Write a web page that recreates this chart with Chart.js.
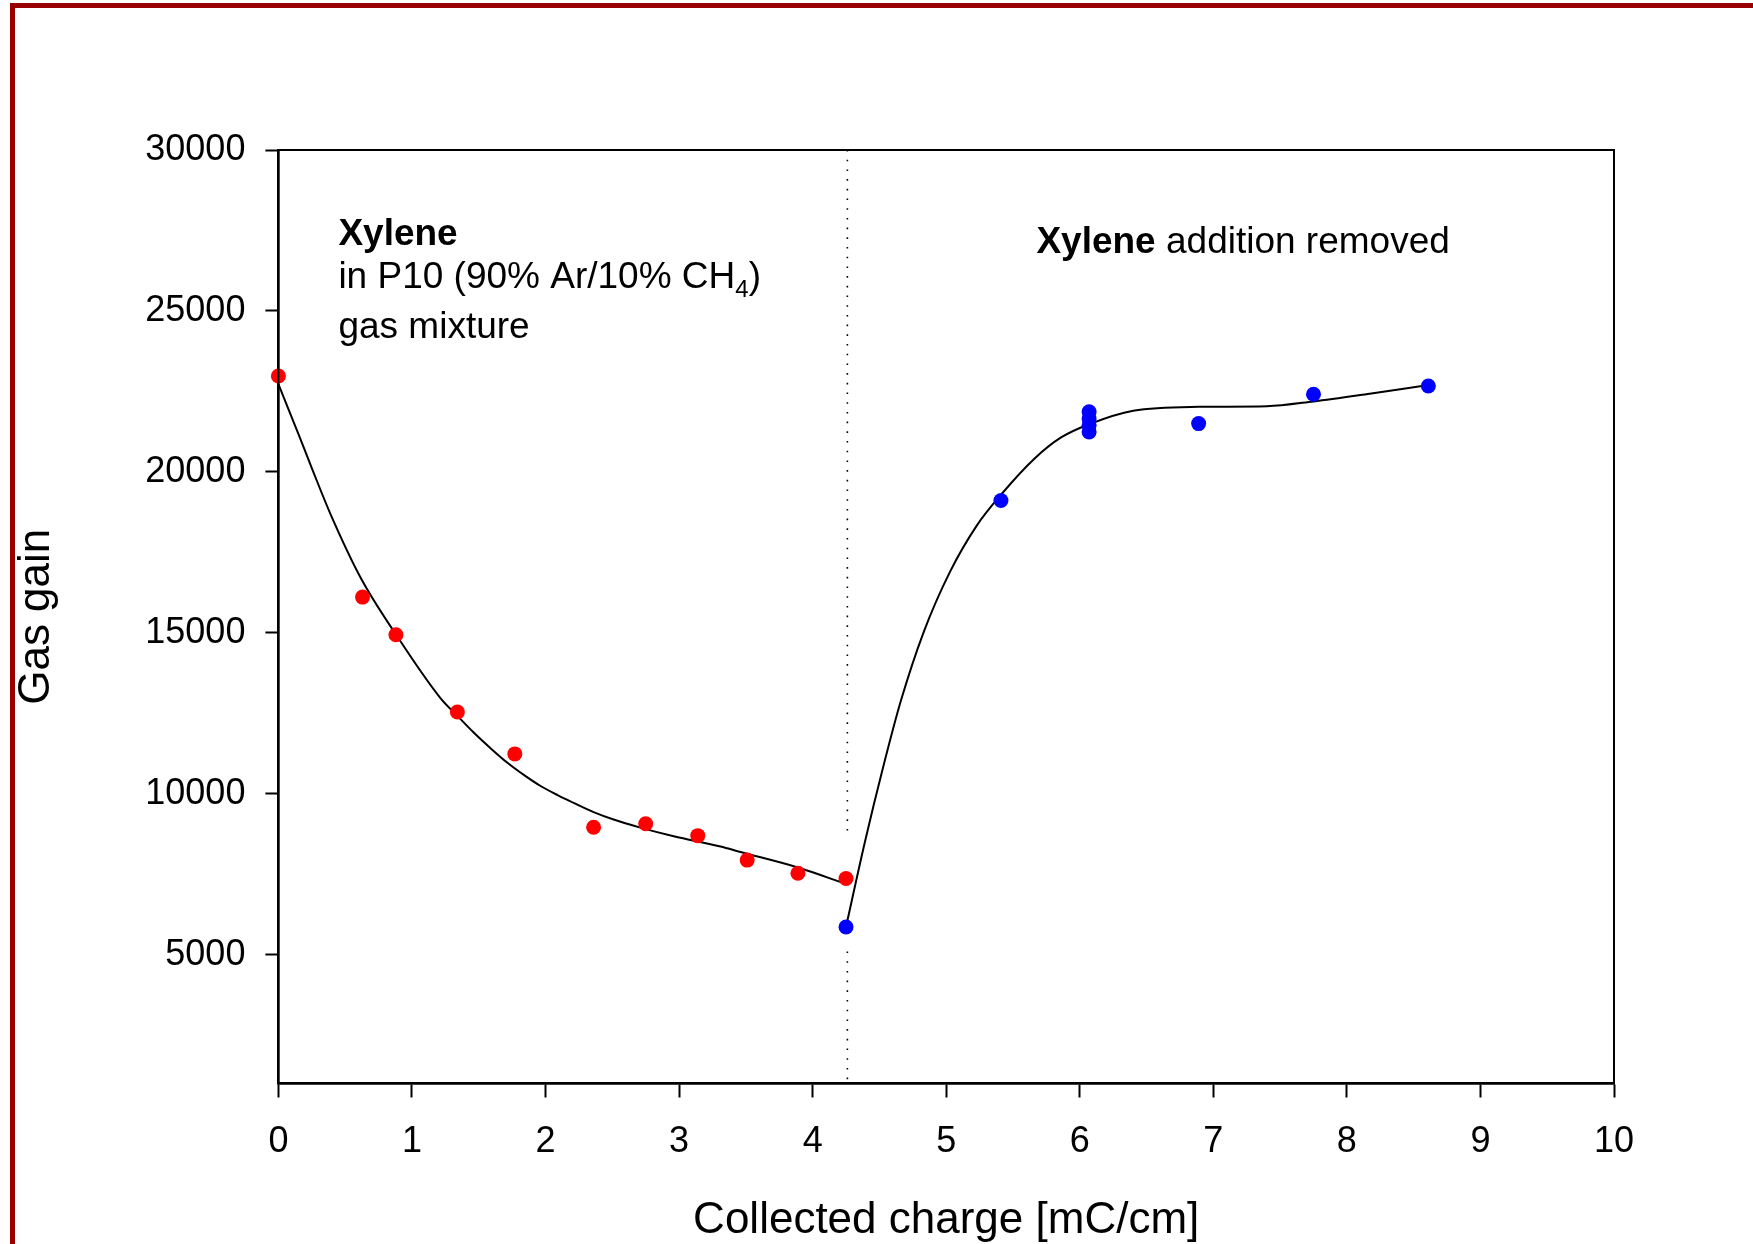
<!DOCTYPE html>
<html>
<head>
<meta charset="utf-8">
<title>Gas gain vs collected charge</title>
<script src="https://cdn.jsdelivr.net/npm/chart.js@4.4.1/dist/chart.umd.min.js"></script>
<style>
  html, body { margin: 0; padding: 0; background: #fff; overflow: hidden; }
  #wrap { position: relative; width: 1753px; height: 1244px; overflow: hidden; }
  #frame { position: absolute; left: 10px; top: 3px; width: 1800px; height: 1300px; border: 5px solid #990000; box-sizing: border-box; }
  #chart { position: absolute; left: 0; top: 0; }
</style>
</head>
<body>
<div id="wrap">
  <div id="frame"></div>
  <canvas id="chart" width="1753" height="1244"></canvas>
</div>
<script>
var FONT = '"Liberation Sans", Arial, Helvetica, sans-serif';

// measured gain with xylene in the P10 mixture
var xyleneCharge = [0, 0.63, 0.88, 1.34, 1.77, 2.36, 2.75, 3.14, 3.51, 3.89, 4.25];
var xyleneGain = [22980, 16110, 14940, 12540, 11240, 8960, 9070, 8700, 7940, 7530, 7370];

// measured gain after the xylene was taken out
var cleanCharge = [4.25, 5.41, 6.07, 6.07, 6.07, 6.07, 6.89, 7.75, 8.61];
var cleanGain = [5860, 19110, 21870, 21650, 21450, 21240, 21500, 22410, 22670];

// smoothed trend lines through both runs
var xyleneFitCharge = [0, 0.16, 0.25, 0.39, 0.62, 0.88, 1.21, 1.34, 1.46, 1.59, 1.71, 1.84, 1.96, 2.09, 2.21, 2.36, 2.51, 2.71, 2.96, 3.31, 3.46, 3.89, 4.25];
var xyleneFitGain = [22730, 21070, 20120, 18690, 16680, 14950, 12990, 12420, 11910, 11410, 10980, 10580, 10250, 9960, 9720, 9430, 9200, 8950, 8680, 8360, 8190, 7710, 7200];
var cleanFitCharge = [4.25, 4.39, 4.53, 4.66, 4.83, 5.03, 5.23, 5.41, 5.66, 5.86, 6.07, 6.40, 6.89, 7.40, 7.75, 8.17, 8.61];
var cleanFitGain = [5870, 8480, 10860, 12880, 15010, 16910, 18340, 19290, 20410, 21070, 21480, 21900, 22020, 22040, 22190, 22430, 22700];

// dotted marker where the xylene addition was removed (broken around the points)
var switchCharge = 4.26;
var switchGain = [30000, 8850, null, 5100, 1000];

var xTicks = [0, 1, 2, 3, 4, 5, 6, 7, 8, 9, 10];
var yTicks = [5000, 10000, 15000, 20000, 25000, 30000];

function pairs(xs, ys) {
    return xs.map(function(x, i) { return {x: x, y: ys[i]}; });
}

var notes = {
    id: 'notes',
    afterDraw: function(chart) {
        var ctx = chart.ctx;
        var a = chart.chartArea;
        ctx.save();
        ctx.strokeStyle = '#000';
        ctx.lineWidth = 2;
        ctx.strokeRect(a.left, a.top, a.right - a.left, a.bottom - a.top);

        ctx.fillStyle = '#000';
        ctx.textAlign = 'left';
        ctx.textBaseline = 'alphabetic';

        var x = a.left + 60;
        ctx.font = 'bold 37px ' + FONT;
        ctx.fillText('Xylene', x, a.top + 95);
        ctx.font = '37px ' + FONT;
        var t = 'in P10 (90% Ar/10% CH';
        ctx.fillText(t, x, a.top + 138);
        var w = ctx.measureText(t).width;
        ctx.font = '24px ' + FONT;
        ctx.fillText('4', x + w, a.top + 147);
        w += ctx.measureText('4').width;
        ctx.font = '37px ' + FONT;
        ctx.fillText(')', x + w, a.top + 138);
        ctx.fillText('gas mixture', x, a.top + 188);

        var x2 = a.left + 758;
        ctx.font = 'bold 37px ' + FONT;
        ctx.fillText('Xylene', x2, a.top + 103);
        var w2 = ctx.measureText('Xylene ').width;
        ctx.font = '37px ' + FONT;
        ctx.fillText('addition removed', x2 + w2, a.top + 103);
        ctx.restore();
    }
};

new Chart(document.getElementById('chart'), {
    type: 'scatter',
    data: {
        datasets: [
            {
                data: pairs(xyleneCharge, xyleneGain),
                backgroundColor: '#ff0000',
                borderWidth: 0,
                pointRadius: 7.5,
                clip: false
            },
            {
                data: pairs(cleanCharge, cleanGain),
                backgroundColor: '#0000ff',
                borderWidth: 0,
                pointRadius: 7.5,
                clip: false
            },
            {
                data: pairs(xyleneFitCharge, xyleneFitGain),
                showLine: true,
                pointRadius: 0,
                borderColor: '#000',
                borderWidth: 2,
                cubicInterpolationMode: 'monotone'
            },
            {
                data: pairs(cleanFitCharge, cleanFitGain),
                showLine: true,
                pointRadius: 0,
                borderColor: '#000',
                borderWidth: 2,
                cubicInterpolationMode: 'monotone'
            },
            {
                data: switchGain.map(function(g) { return {x: switchCharge, y: g}; }),
                showLine: true,
                spanGaps: false,
                pointRadius: 0,
                borderColor: '#000',
                borderWidth: 1.6,
                borderDash: [1.6, 8.1]
            }
        ]
    },
    options: {
        responsive: false,
        animation: false,
        events: [],
        layout: { padding: { left: 0, top: 150, right: 139, bottom: 0 } },
        plugins: {
            legend: { display: false },
            tooltip: { enabled: false }
        },
        scales: {
            x: {
                type: 'linear',
                min: 0,
                max: 10,
                afterBuildTicks: function(s) { s.ticks = xTicks.map(function(v) { return {value: v}; }); },
                afterFit: function(s) { s.height = 160.5; },
                grid: { drawOnChartArea: false, tickLength: 14, tickWidth: 2, tickColor: '#000' },
                border: { color: '#000', width: 2.5 },
                ticks: {
                    color: '#000',
                    padding: 23,
                    maxRotation: 0,
                    font: { family: FONT, size: 36 },
                    callback: function(v) { return String(v); }
                },
                title: {
                    display: true,
                    text: 'Collected charge [mC/cm]',
                    color: '#000',
                    font: { family: FONT, size: 44 },
                    padding: { top: 0, bottom: -3 }
                }
            },
            y: {
                type: 'linear',
                min: 1000,
                max: 30000,
                afterBuildTicks: function(s) { s.ticks = yTicks.map(function(v) { return {value: v}; }); },
                afterFit: function(s) { s.width = 278.4; },
                grid: { drawOnChartArea: false, tickLength: 13, tickWidth: 2, tickColor: '#000' },
                border: { color: '#000', width: 2.5 },
                ticks: {
                    color: '#000',
                    padding: 20,
                    font: { family: FONT, size: 36 },
                    callback: function(v) { return String(v); }
                },
                title: {
                    display: true,
                    text: 'Gas gain',
                    color: '#000',
                    font: { family: FONT, size: 44 },
                    padding: { top: 10, bottom: 0 }
                }
            }
        }
    },
    plugins: [notes]
});
</script>
</body>
</html>
